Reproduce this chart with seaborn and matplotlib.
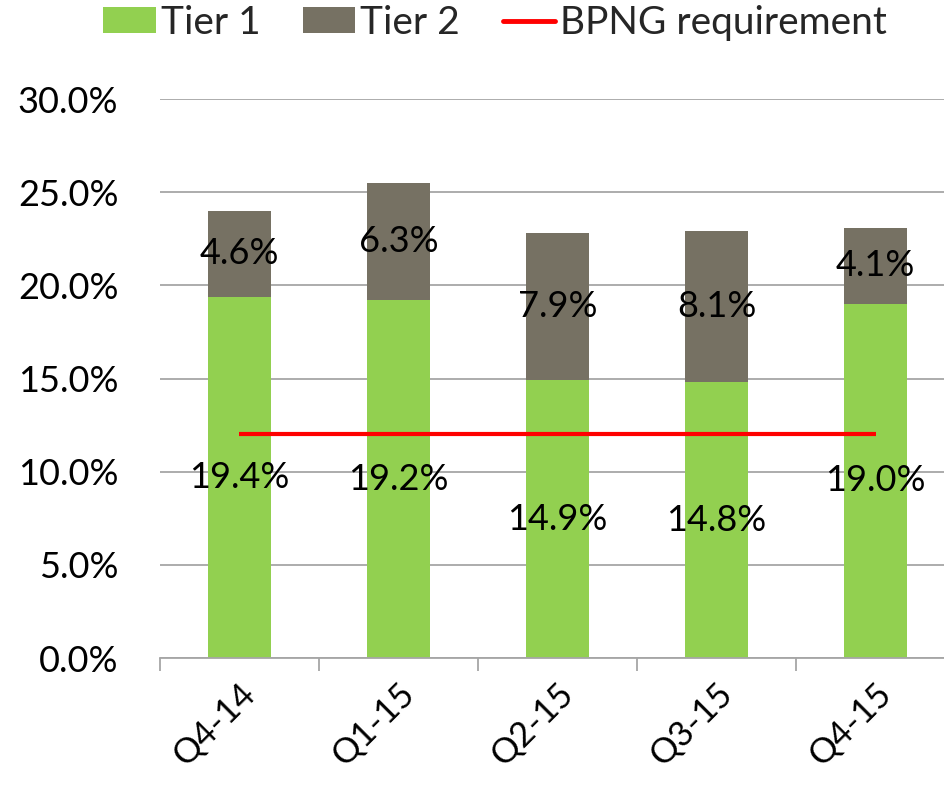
import numpy as np
import seaborn as sns
import matplotlib
matplotlib.use("Agg")
from matplotlib import pyplot as plt
from matplotlib.patches import Patch
from matplotlib.lines import Line2D
from matplotlib.ticker import FuncFormatter, FixedLocator

# data
quarters = ["Q4-14", "Q1-15", "Q2-15", "Q3-15", "Q4-15"]
tier1 = [19.4, 19.2, 14.9, 14.8, 19.0]
tier2 = [4.6, 6.3, 7.9, 8.1, 4.1]
bpng_req = [12.0, 12.0, 12.0, 12.0, 12.0]

green = "#92D050"
grey = "#767163"
red = "#FF0000"

sns.set_theme(style="white")
plt.rcParams["font.family"] = ["Lato", "DejaVu Sans"]

total = [a + b for a, b in zip(tier1, tier2)]
x = np.arange(len(quarters))

fig = plt.figure(figsize=(9.45, 7.85), dpi=100)
ax = fig.add_axes([160 / 945, 1 - 658 / 785, 795 / 945, (658 - 99) / 785])

# stacked bars: total in grey, tier 1 drawn over it in green
sns.barplot(x=quarters, y=total, color=grey, saturation=1, width=0.4, ax=ax, linewidth=0)
sns.barplot(x=quarters, y=tier1, color=green, saturation=1, width=0.4, ax=ax, linewidth=0)

ax.plot(x, bpng_req, color=red, lw=3, solid_capstyle="butt", zorder=5)

# value labels in the middle of each segment
for i in range(len(quarters)):
    ax.text(i, tier1[i] / 2, f"{tier1[i]:.1f}%", ha="center", va="center", fontsize=26, color="black", zorder=6)
    ax.text(i, tier1[i] + tier2[i] / 2, f"{tier2[i]:.1f}%", ha="center", va="center", fontsize=26, color="black", zorder=6)

ax.set_xlim(-0.5, len(quarters) - 0.5)
ax.set_ylim(0, 30)
ax.set_yticks(np.arange(0, 30.1, 5))
ax.yaxis.set_major_formatter(FuncFormatter(lambda v, p: f"{v:.1f}%"))
ax.yaxis.grid(True, color="#A6A6A6", lw=1.3)
ax.set_axisbelow(True)

for s in ["top", "right", "left"]:
    ax.spines[s].set_visible(False)
ax.spines["bottom"].set_color("#A6A6A6")
ax.spines["bottom"].set_linewidth(1.3)

ax.tick_params(axis="y", length=0, pad=30, labelsize=26, labelcolor="black")
ax.set_xticks(x)
ax.set_xticklabels(quarters, rotation=45, ha="right", rotation_mode="anchor")
ax.tick_params(axis="x", which="major", length=0, pad=14, labelsize=25, labelcolor="black")
ax.xaxis.set_minor_locator(FixedLocator(np.arange(-0.5, len(quarters), 1)))
ax.tick_params(axis="x", which="minor", length=9.5, width=1.3, color="#A6A6A6", bottom=True)
ax.set_xlabel("")
ax.set_ylabel("")

handles = [
    Patch(facecolor=green, edgecolor="none"),
    Patch(facecolor=grey, edgecolor="none"),
    Line2D([0], [0], color=red, lw=3.5),
]
fig.legend(handles, ["Tier 1", "Tier 2", "BPNG requirement"], loc="center",
           bbox_to_anchor=(495 / 945, 1 - 23 / 785), ncol=3, frameon=False,
           fontsize=28, handlelength=1.35, handleheight=0.65, handletextpad=0.12,
           columnspacing=1.1, borderpad=0, borderaxespad=0)

fig.savefig("out.png", dpi=100)
